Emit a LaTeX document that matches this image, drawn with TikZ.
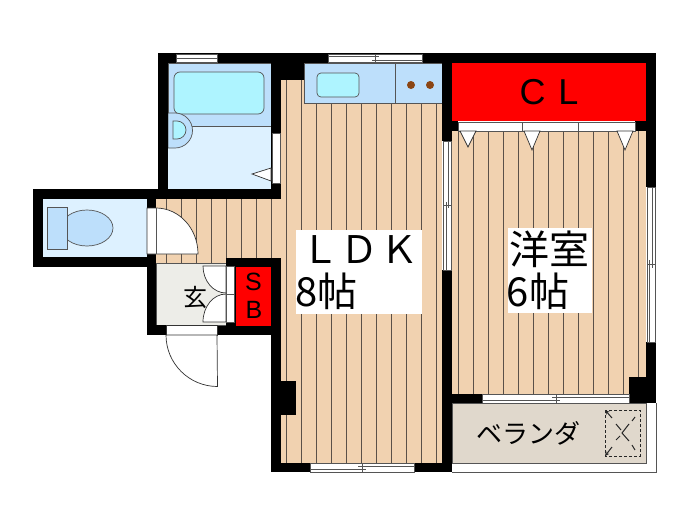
\documentclass[tikz,border=0pt]{standalone}
\usepackage{fontspec}
\setmainfont{Liberation Sans}
\newfontfamily\jpfont{Noto Sans CJK JP}
\usepackage{tikz}
\definecolor{wood}{HTML}{F1D2B0}
\definecolor{plank}{HTML}{5A5048}
\definecolor{pale}{HTML}{DDF1FF}
\definecolor{midblue}{HTML}{BDDFFB}
\definecolor{aqua}{HTML}{AEF4FF}
\definecolor{hall}{HTML}{EDEDE8}
\definecolor{deck}{HTML}{E0D8CC}
\definecolor{burner}{HTML}{8B4513}
\definecolor{edge}{HTML}{555555}
\tikzset{
    wall/.style={fill=black, draw=none},
    fitting/.style={draw=edge, line width=0.7pt},
    sash/.style={draw=edge, fill=white, line width=0.7pt},
    leaf/.style={draw=black!80, fill=white, line width=0.7pt},
    plankline/.style={draw=plank, line width=0.9pt},
    roombox/.style={fill=white, inner sep=0pt},
    roomtext/.style={font=\jpfont\fontsize{40}{40}\selectfont, inner sep=0pt},
    mark line/.style={draw=black!85, line width=1pt},
}
\begin{document}
\begin{tikzpicture}[x=1pt, y=-1pt]
    \useasboundingbox (0,0) rectangle (700,525);

    % floors
    \fill[wood] (281,80) rectangle (442,463);
    \fill[wood] (156,199) rectangle (281,263);
    \fill[wood] (452,131) rectangle (646,394);
    \foreach \px in {286,301,...,436} {
        \draw[plankline] (\px,80) -- (\px,463);
    }
    \foreach \px in {166,181,...,271} {
        \draw[plankline] (\px,199) -- (\px,263);
    }
    \foreach \px in {458,473,...,638} {
        \draw[plankline] (\px,131) -- (\px,394);
    }
    \draw[fitting, fill=hall] (156,263) rectangle (226,325);

    % bath and toilet
    \fill[pale] (168,63) rectangle (271,189);
    \fill[pale] (43,199) rectangle (147,257);
    \draw[fitting, fill=midblue] (168,63) rectangle (271,126);
    \draw[fitting, fill=aqua, rounded corners=6pt] (174,72) rectangle (264,114);
    \draw[fitting, fill=midblue] (168,113) -- (175,113) arc[start angle=-90, end angle=90, radius=17.5] -- (168,148) -- cycle;
    \draw[fitting, fill=aqua] (173,121) -- (177,121) arc[start angle=-90, end angle=90, radius=9] -- (173,139) -- cycle;
    \draw[fitting, fill=midblue] (87,228) ellipse[x radius=26, y radius=18];
    \draw[fitting, fill=midblue] (47,207) rectangle (67,249);

    % kitchen
    \draw[fitting, fill=midblue] (304,63) rectangle (442,103);
    \draw[fitting] (395,63) -- (395,103);
    \draw[fitting, fill=aqua, rounded corners=4pt] (317,73) rectangle (359,97);
    \fill[burner] (411,85) circle[radius=4];
    \fill[burner] (430,85) circle[radius=4];

    % walls
    \fill[wall] (158,53) rectangle (168,199);
    \fill[wall] (158,53) rectangle (304,63);
    \fill[wall] (271,53) rectangle (304,80);
    \fill[wall] (271,80) rectangle (281,199);
    \fill[wall] (33,189) rectangle (281,199);
    \fill[wall] (33,190) rectangle (43,267);
    \fill[wall] (33,257) rectangle (156,267);
    \fill[wall] (147,199) rectangle (156,335);
    \fill[wall] (147,325) rectangle (166,335);
    \fill[wall] (217,326) rectangle (281,335);
    \fill[wall] (226,258) rectangle (281,267);
    \fill[wall] (226,258) rectangle (236,335);
    \fill[wall] (271,258) rectangle (281,472);
    \fill[wall] (271,381) rectangle (296,415);
    \fill[wall] (271,463) rectangle (442,472);
    \fill[wall] (304,53) rectangle (656,63);
    \fill[wall] (442,53) rectangle (452,141);
    \fill[wall] (442,121) rectangle (458,131);
    \fill[wall] (635,121) rectangle (656,131);
    \fill[wall] (646,53) rectangle (656,187);
    \fill[wall] (646,342) rectangle (656,403);
    \fill[wall] (629,377) rectangle (656,403);
    \fill[wall] (442,270) rectangle (452,472);
    \fill[wall] (442,394) rectangle (482,403);

    % windows
    \draw[sash] (176,54) rectangle (217,62);
    \draw[fitting] (176,58) -- (217,58);
    \draw[sash] (328,54) rectangle (422,62);
    \draw[fitting] (328,56) -- (379,56);
    \draw[fitting] (372,60) -- (422,60);
    \draw[fitting] (375,54) -- (375,62);
    \draw[sash] (272,133) rectangle (280,183);
    \draw[sash] (443,141) rectangle (451,270);
    \draw[fitting] (448,141) -- (448,208);
    \draw[fitting] (446,202) -- (446,270);
    \draw[fitting] (443,205) -- (451,205);
    \draw[sash] (647,187) rectangle (655,342);
    \draw[fitting] (652,187) -- (652,268);
    \draw[fitting] (649,260) -- (649,342);
    \draw[fitting] (647,264) -- (655,264);
    \draw[sash] (482,394) rectangle (629,403);
    \draw[fitting] (482,400) -- (560,400);
    \draw[fitting] (552,397) -- (629,397);
    \draw[fitting] (556,394) -- (556,403);
    \draw[sash] (310,463) rectangle (414,472);
    \draw[fitting] (310,469) -- (366,469);
    \draw[fitting] (358,466) -- (414,466);
    \draw[fitting] (362,463) -- (362,472);

    % closet
    \fill[red] (452,63) rectangle (646,121);
    \draw[sash] (458,122) rectangle (635,131);
    \draw[fitting] (522,122) -- (522,131);
    \draw[fitting] (578,122) -- (578,131);
    \draw[leaf] (460,131) -- (476,131) -- (468,147) -- cycle;
    \draw[leaf] (524,131) -- (540,131) -- (532,150) -- cycle;
    \draw[leaf] (617,131) -- (633,131) -- (625,150) -- cycle;
    \draw[leaf] (271,168) -- (252,174) -- (271,181) -- cycle;

    % storage
    \fill[red] (236,267) rectangle (271,326);
    \node[inner sep=0pt, font=\fontsize{25}{25}\selectfont] (sbs) at (253.5,282) {S};
    \node[inner sep=0pt, font=\fontsize{25}{25}\selectfont] (sbb) at (254,309.5) {B};
    \node[inner sep=0pt, font=\fontsize{36}{36}\selectfont] (cl) at (549,92) {C\hspace{13pt}L};

    % doors
    \draw[leaf] (147,208) -- (156,208) arc[start angle=-90, end angle=0, x radius=42, y radius=46] -- (147,254) -- cycle;
    \draw[fitting] (156,208) -- (156,254);
    \draw[leaf] (166,325) rectangle (217,335);
    \draw[leaf] (166,335) arc[start angle=180, end angle=90, radius=51.5] -- (217,335) -- cycle;
    \draw[leaf] (203,266) arc[start angle=180, end angle=90, x radius=23, y radius=27] -- (226,266) -- cycle;
    \draw[leaf] (203,322) arc[start angle=180, end angle=270, x radius=23, y radius=28] -- (226,322) -- cycle;
    \draw[sash] (226,266) rectangle (234,322);
    \draw[fitting] (226,294) -- (234,294);
    \node[font=\jpfont\fontsize{24}{24}\selectfont, inner sep=0pt] (genkan) at (195,297) {玄};

    % veranda
    \fill[white] (452,403) rectangle (656,472);
    \draw[edge, line width=0.8pt] (452,472) -- (656,472) -- (656,403);
    \draw[fitting, fill=deck] (452,403) -- (646,403) -- (646,463) -- (452,463) -- cycle;
    \node[font=\jpfont\fontsize{26}{26}\selectfont, inner sep=0pt] (veranda) at (528,433) {ベランダ};
    \draw[mark line, dashed, dash pattern=on 3pt off 2pt] (605,410) rectangle (640,456);
    \draw[mark line, -stealth] (612,418) -- (605,410);
    \draw[mark line, -stealth] (612,447) -- (605,456);
    \draw[mark line] (616,424) -- (621,430);
    \draw[mark line] (616,440) -- (620,436);
    \draw[mark line] (635,417) -- (632,421);
    \draw[mark line] (632,445) -- (635,450);
    \draw[mark line] (629,424) -- (622,433) -- (629,441);

    % labels
    \node[roombox, minimum width=126pt, minimum height=84pt] (ldkbox) at (359,272) {};
    \node[roombox, minimum width=84pt, minimum height=85pt] (westernbox) at (550,270.5) {};
    \node[roomtext, font=\jpfont\fontsize{38}{38}\selectfont] (ldk) at (360,250) {Ｌ\hspace{2pt}Ｄ\hspace{2pt}Ｋ};
    \node[roomtext] (ldksize) at (326.5,291) {8帖};
    \node[roomtext] (western) at (549,249) {洋室};
    \node[roomtext] (westernsize) at (538,291) {6帖};
\end{tikzpicture}
\end{document}
